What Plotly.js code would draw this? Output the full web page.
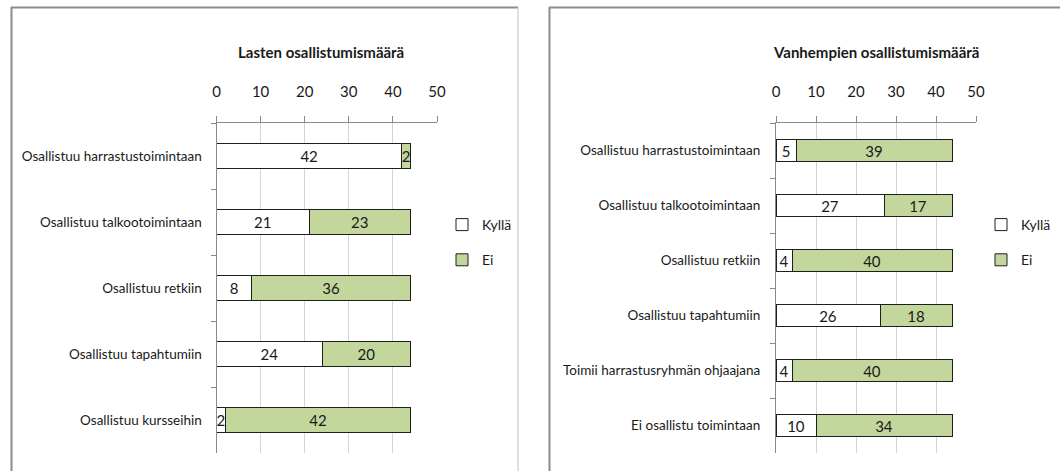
<!DOCTYPE html>
<html>
<head>
<meta charset="utf-8">
<script src="https://cdn.plot.ly/plotly-3.0.1.min.js"></script>
<style>
html,body{margin:0;padding:0;background:#fff;}
#chart{width:1060px;height:471px;}
</style>
</head>
<body>
<div id="chart"></div>
<script>
// ---- data ----
var titleLeft = 'Lasten osallistumismäärä';
var titleRight = 'Vanhempien osallistumismäärä';
var seriesNames = ['Kyllä', 'Ei'];
var catsLeft = ['Osallistuu harrastustoimintaan', 'Osallistuu talkootoimintaan', 'Osallistuu retkiin', 'Osallistuu tapahtumiin', 'Osallistuu kursseihin'];
var kyllaLeft = [42, 21, 8, 24, 2];
var eiLeft = [2, 23, 36, 20, 42];
var catsRight = ['Osallistuu harrastustoimintaan', 'Osallistuu talkootoimintaan', 'Osallistuu retkiin', 'Osallistuu tapahtumiin', 'Toimii harrastusryhmän ohjaajana', 'Ei osallistu toimintaan'];
var kyllaRight = [5, 27, 4, 26, 4, 10];
var eiRight = [39, 17, 40, 18, 40, 34];
var xTickVals = [0, 10, 20, 30, 40, 50];

// ---- styling ----
var W = 1060, H = 471;
function px(x) { return x / W; }
function py(y) { return 1 - y / H; }
var FONT = 'Lato, Liberation Sans, sans-serif';
var colKylla = '#ffffff', colEi = '#c3d69b';
var axisGrey = '#8a8a8a', gridGrey = '#d4d4d4';

function barTrace(cats, vals, name, color, xa, ya, legendId, showleg) {
  return {
    type: 'bar', orientation: 'h', y: cats, x: vals, name: name,
    xaxis: xa, yaxis: ya, legend: legendId, legendgroup: legendId + name,
    showlegend: showleg,
    marker: { color: color, line: { color: '#1e1e1e', width: 1 } },
    text: vals.map(String), textposition: 'inside', insidetextanchor: 'middle',
    constraintext: 'none', textangle: 0,
    textfont: { family: FONT, size: 15, color: '#1a1a1a' },
    hoverinfo: 'none'
  };
}

var data = [
  barTrace(catsLeft, kyllaLeft, seriesNames[0], colKylla, 'x', 'y', 'legend', true),
  barTrace(catsLeft, eiLeft, seriesNames[1], colEi, 'x', 'y', 'legend', true),
  barTrace(catsRight, kyllaRight, seriesNames[0], colKylla, 'x2', 'y2', 'legend2', true),
  barTrace(catsRight, eiRight, seriesNames[1], colEi, 'x2', 'y2', 'legend2', true)
];

function xAxis(domain, anchor) {
  return {
    domain: domain, anchor: anchor, side: 'top', range: [0, 50],
    tickvals: xTickVals, ticks: 'outside', ticklen: 6, tickcolor: axisGrey,
    showgrid: true, gridcolor: gridGrey, gridwidth: 1,
    showline: true, linecolor: axisGrey, linewidth: 1, zeroline: false,
    ticklabelstandoff: 13, fixedrange: true,
    tickfont: { family: FONT, size: 15, color: '#1a1a1a' }
  };
}
function yAxis(domain, anchor, cats, standoff) {
  return {
    domain: domain, anchor: anchor, type: 'category', categoryarray: cats,
    categoryorder: 'array', autorange: 'reversed', tickson: 'boundaries',
    ticks: 'outside', ticklen: 5, tickcolor: axisGrey,
    showgrid: false, showline: true, linecolor: axisGrey, linewidth: 1,
    zeroline: false, ticklabelstandoff: standoff, fixedrange: true,
    tickfont: { family: FONT, size: 13.5, color: '#1a1a1a' }
  };
}

var yDom = [py(453), py(123)];
var legendCommon = {
  xanchor: 'left', yanchor: 'top', traceorder: 'grouped', tracegroupgap: 14,
  font: { family: FONT, size: 14, color: '#1a1a1a' }, bgcolor: 'rgba(0,0,0,0)',
  itemwidth: 30
};

var layout = {
  width: W, height: H, margin: { l: 0, r: 0, t: 0, b: 0 },
  paper_bgcolor: '#ffffff', plot_bgcolor: 'rgba(0,0,0,0)',
  barmode: 'stack', bargap: 0.61, showlegend: true,
  xaxis: xAxis([px(216.5), px(437)], 'y'),
  yaxis: yAxis(yDom, 'x', catsLeft, 11),
  xaxis2: xAxis([px(776), px(976)], 'y2'),
  yaxis2: yAxis(yDom, 'x2', catsRight, 12),
  legend: Object.assign({}, legendCommon, { x: px(442), y: py(209) }),
  legend2: Object.assign({}, legendCommon, { x: px(981), y: py(209) }),
  annotations: [
    { text: '<b>' + titleLeft + '</b>', xref: 'paper', yref: 'paper', x: px(321), y: py(52),
      xanchor: 'center', yanchor: 'middle', showarrow: false,
      font: { family: FONT, size: 15, color: '#1a1a1a' } },
    { text: '<b>' + titleRight + '</b>', xref: 'paper', yref: 'paper', x: px(876), y: py(52),
      xanchor: 'center', yanchor: 'middle', showarrow: false,
      font: { family: FONT, size: 15, color: '#1a1a1a' } }
  ],
  shapes: [
    { type: 'line', xref: 'paper', yref: 'paper', x0: px(11), x1: px(518), y0: py(7.5), y1: py(7.5), line: { color: '#8c8c8c', width: 2 } },
    { type: 'line', xref: 'paper', yref: 'paper', x0: px(11.5), x1: px(11.5), y0: py(7), y1: py(471), line: { color: '#8c8c8c', width: 2 } },
    { type: 'line', xref: 'paper', yref: 'paper', x0: px(518), x1: px(518), y0: py(8), y1: py(471), line: { color: '#d6d6d6', width: 1.5 } },
    { type: 'line', xref: 'paper', yref: 'paper', x0: px(549), x1: px(1060), y0: py(7.5), y1: py(7.5), line: { color: '#8c8c8c', width: 2 } },
    { type: 'line', xref: 'paper', yref: 'paper', x0: px(549.5), x1: px(549.5), y0: py(7), y1: py(471), line: { color: '#8c8c8c', width: 2 } }
  ]
};

Plotly.newPlot('chart', data, layout, { displayModeBar: false, staticPlot: true });
</script>
</body>
</html>
